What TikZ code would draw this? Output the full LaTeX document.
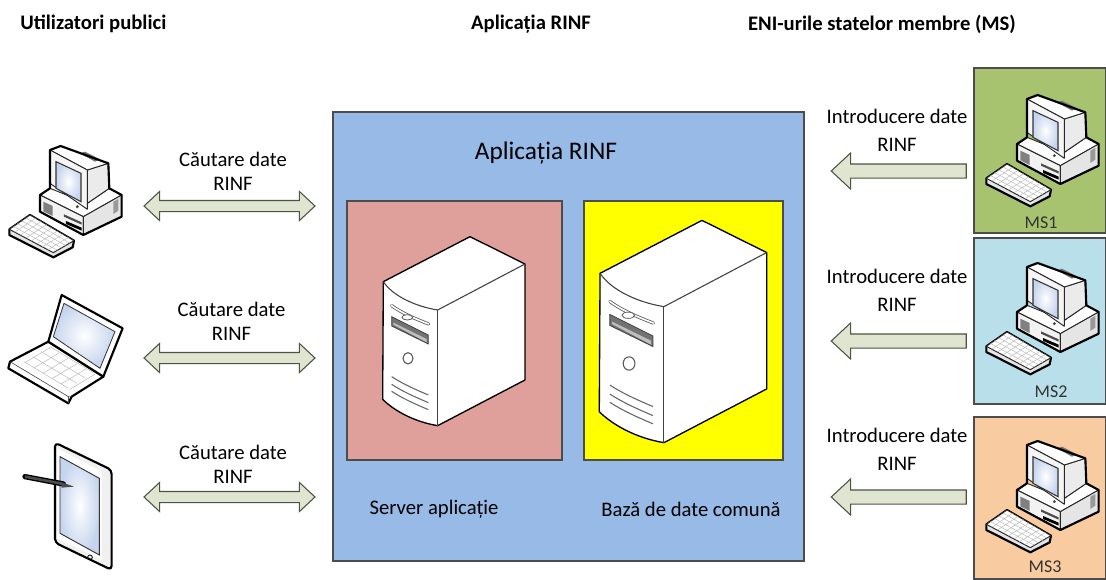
\documentclass[tikz,border=0pt]{standalone}
\usepackage{fontspec}
\setmainfont{Carlito}
\usetikzlibrary{shapes.arrows}
\definecolor{panelblue}{HTML}{97BAE6}
\definecolor{panelpink}{HTML}{DF9F9B}
\definecolor{puryellow}{HTML}{FFFF00}
\definecolor{msgreen}{HTML}{A7C36F}
\definecolor{mscyan}{HTML}{B9DFEA}
\definecolor{msorange}{HTML}{F8CBA1}
\definecolor{arrowfill}{HTML}{DFE5D1}
\definecolor{arrowline}{HTML}{4A5440}
\definecolor{screenblue}{HTML}{C6D5EE}
\tikzset{
  x=0.75pt,y=-0.75pt,
  box/.style={draw=black!70,line width=0.8pt,anchor=north west,inner sep=0pt,outer sep=0pt},
  lbl/.style={font=\fontsize{15.5pt}{18pt}\selectfont,text=black,inner sep=0pt},
  mslbl/.style={font=\fontsize{13.5pt}{16pt}\selectfont,text=black!80,inner sep=0pt},
  title/.style={font=\fontsize{15.5pt}{18pt}\selectfont\bfseries,text=black,inner sep=0pt},
  both/.style={double arrow,draw=arrowline,fill=arrowfill,line width=0.8pt,inner sep=0pt,
    text height=7.5pt,text depth=0pt,
    minimum height=128.25pt,minimum width=21pt,double arrow head extend=6.75pt,double arrow tip angle=86},
  oneway/.style={single arrow,draw=arrowline,fill=arrowfill,line width=0.8pt,inner sep=0pt,shape border rotate=180,
    text height=9.75pt,text depth=0pt,
    minimum height=101.25pt,minimum width=26.25pt,single arrow head extend=8.25pt,single arrow tip angle=86},
  devline/.style={draw=black,line width=1.6pt,line join=round},
  devinner/.style={draw=black!85,line width=0.7pt,line join=round},
  keyline/.style={draw=black!28,line width=0.35pt},
  srvline/.style={draw=black!75,line width=0.8pt,line join=round},
  pics/server/.style={code={
    \fill[white] (130,275)--(390,140)--(555,222)--(555,570)--(293,707) .. controls (220,695) and (160,660) .. (128,628)--cycle;
    \draw[draw=black,line width=1pt,line join=round] (130,275)--(390,140)--(555,222)--(555,570)--(293,707) .. controls (220,695) and (160,660) .. (128,628)--cycle;
    \draw[srvline] (130,275) .. controls (160,320) and (230,350) .. (293,360)--(555,222);
    \draw[srvline] (293,360)--(293,707);
    \draw[draw=black!65,line width=2.4pt,line cap=round] (155,347) .. controls (190,372) and (230,388) .. (266,402);
    \draw[draw=white,line width=1.2pt,line cap=round] (155,347) .. controls (190,372) and (230,388) .. (266,402);
    \draw[draw=black!65,fill=white,line width=0.6pt] (202,382) ellipse (16 and 8);
    \fill[black!55,draw=black!75,line width=0.6pt] (155,380)--(265,435)--(265,462)--(155,408)--cycle;
    \fill[black!25] (160,398)--(260,447)--(260,457)--(160,404)--cycle;
    \draw[draw=black!65,line width=0.8pt] (204,505) ellipse (15 and 17);
    \foreach \d in {0,23,44}{
      \draw[draw=black!60,line width=0.8pt] (155,560+\d) .. controls (190,583+\d) and (230,600+\d) .. (265,615+\d);
    }
  }},
  pics/desktop/.style={code={
    % keyboard
    \draw[devline,fill=black!10] (28,328)--(90,285)--(222,362)--(218,382)--(160,412)--(28,345)--cycle;
    \draw[devinner,fill=white] (28,328)--(90,285)--(222,362)--(160,398)--cycle;
    \foreach \i in {1,...,4}{
      \draw[keyline] ({28+\i*12.4},{328-\i*8.6}) -- ({160+\i*12.4},{398-\i*7.2});
    }
    \foreach \i in {1,...,7}{
      \draw[keyline] ({28+\i*16.5},{328+\i*8.75}) -- ({90+\i*16.5},{285+\i*9.6});
    }
    % base
    \draw[devinner,fill=white] (120,225)--(150,205)--(262,250)--(328,205)--(365,225)--(250,290)--cycle;
    \draw[devinner,fill=black!5] (120,225)--(250,290)--(250,345)--(120,275)--cycle;
    \draw[devinner,fill=black!10] (250,290)--(365,225)--(365,290)--(250,345)--cycle;
    \fill[black!50] (130,245)--(158,258)--(158,288)--(130,274)--cycle;
    \fill[black!40] (340,245)--(355,237)--(355,272)--(340,282)--cycle;
    \fill[black!70] (192,283)--(245,307)--(245,314)--(192,290)--cycle;
    \fill[black] (198,303)--(245,323)--(245,332)--(198,312)--cycle;
    % monitor
    \draw[devinner,fill=black!8] (262,150)--(325,130)--(328,205)--(262,250)--cycle;
    \draw[devinner,fill=white] (150,90)--(182,78)--(325,130)--(262,150)--cycle;
    \draw[devinner,fill=black!4] (150,90)--(262,150)--(262,268)--(150,190)--cycle;
    \shade[inner color=white,outer color=screenblue] (168,125)--(243,160)--(243,245)--(168,205)--cycle;
    \draw[draw=black!80,line width=0.8pt] (168,125)--(243,160)--(243,245)--(168,205)--cycle;
    \fill[black!55] (240,100)--(255,95)--(300,118)--(285,125)--cycle;
    \fill[black!70] (232,260) circle (5);
    % silhouette
    \draw[devline] (150,90)--(182,78)--(325,130)--(328,205)--(365,225)--(365,290)--(250,345)--(120,275)--(120,225)--(150,205)--cycle;
  }},
  pics/laptop/.style={code={
    \draw[devline,fill=white] (145,665)--(30,725)--(25,745)--(205,850)--(215,830)--(310,770)--cycle;
    \draw[line width=0.5pt,draw=black!70] (30,725)--(205,830)--(215,830);
    \draw[line width=0.5pt,draw=black!70] (205,830)--(205,850);
    \foreach \i in {0,1,2,3}{
      \draw[keyline] ({72+\i*26},{725-\i*15}) -- ({205+\i*26},{805-\i*15});
    }
    \foreach \i in {0,...,5}{
      \draw[keyline] ({75+\i*27},{728+\i*16}) -- ({150+\i*27},{683+\i*16});
    }
    \draw[devline,fill=white] (185,525)--(368,625)--(310,770)--(145,665)--cycle;
    \shade[inner color=white,outer color=screenblue] (192,550)--(345,635)--(300,745)--(160,650)--cycle;
    \draw[draw=black!80,line width=0.6pt] (192,550)--(345,635)--(300,745)--(160,650)--cycle;
  }},
  pics/tablet/.style={code={
    \draw[devline,fill=black!6,rounded corners=3pt] (165,968)--(335,1050)--(335,1350)--(165,1268)--cycle;
    \fill[white] (172,985)--(305,1055)--(305,1320)--(172,1255)--cycle;
    \shade[inner color=white,outer color=screenblue] (180,1010)--(298,1075)--(298,1305)--(180,1240)--cycle;
    \draw[draw=black!80,line width=0.7pt] (180,1010)--(298,1075)--(298,1305)--(180,1240)--cycle;
    \draw[draw=black,line width=0.6pt] (270,1312) circle (7);
    \draw[draw=black,line width=4pt,line cap=round] (75,1070)--(190,1092);
    \draw[draw=black!70,line width=2pt] (75,1070)--(190,1092);
    \fill[black!70] (185,1087)--(222,1100)--(185,1103)--cycle;
  }},
}
\begin{document}
\begin{tikzpicture}
\useasboundingbox (0,0) rectangle (1106,579);

% titles
\node[title,anchor=west] (t1) at (20,24) {Utilizatori publici};
\node[title] (t2) at (531,24) {Aplicația RINF};
\node[title] (t3) at (882,24) {ENI-urile statelor membre (MS)};

% central application
\node[box,fill=panelblue,minimum width=353.25pt,minimum height=336.75pt] (app) at (333,112) {};
\node[lbl,font=\fontsize{19pt}{22pt}\selectfont] (apptitle) at (546,153) {Aplicația RINF};
\node[box,fill=panelpink,minimum width=161.25pt,minimum height=194.25pt] (srvA) at (347,201) {};
\node[box,fill=puryellow,minimum width=149.25pt,minimum height=194.25pt] (srvB) at (584,201) {};
\pic[scale=0.3333] at (340,190) {server};
\pic[scale=0.392] at (549.1,165.5) {server};
\node[lbl] (srvAlbl) at (434,509) {Server aplicație};
\node[lbl] (srvBlbl) at (691,509) {Bază de date comună};

% member states
\node[box,fill=msgreen,minimum width=99pt,minimum height=123.75pt] (ms1) at (974,68) {};
\node[box,fill=mscyan,minimum width=99pt,minimum height=124.5pt] (ms2) at (974,238) {};
\node[box,fill=msorange,minimum width=99pt,minimum height=121.5pt] (ms3) at (974,417) {};
\pic[scale=0.3333] at (977,69) {desktop};
\pic[scale=0.3333] at (977,237) {desktop};
\pic[scale=0.3333] at (977,415) {desktop};
\node[mslbl] (ms1lbl) at (1041,223) {MS1};
\node[mslbl] (ms2lbl) at (1051,392) {MS2};
\node[mslbl] (ms3lbl) at (1045,567) {MS3};

% public users
\pic[scale=0.3333] at (0,120) {desktop};
\pic[scale=0.3333] at (0,120) {laptop};
\pic[scale=0.3333] at (0,120) {tablet};

% double arrows and labels
\node[both] (a1) at (229.5,206) {};
\node[both] (a2) at (229.5,358) {};
\node[both] (a3) at (229.5,497) {};
\node[lbl] (c1a) at (233,159) {Căutare date};
\node[lbl] (c1b) at (233,184) {RINF};
\node[lbl] (c2a) at (231.5,309) {Căutare date};
\node[lbl] (c2b) at (231.5,334) {RINF};
\node[lbl] (c3a) at (233,452) {Căutare date};
\node[lbl] (c3b) at (233,477) {RINF};

% one-way arrows and labels
\node[oneway] (b1) at (902.5,171) {};
\node[oneway] (b2) at (902.5,341) {};
\node[oneway] (b3) at (902.5,497) {};
\node[lbl] (i1a) at (897,116) {Introducere date};
\node[lbl] (i1b) at (897,145) {RINF};
\node[lbl] (i2a) at (897,276) {Introducere date};
\node[lbl] (i2b) at (897,305) {RINF};
\node[lbl] (i3a) at (897,435) {Introducere date};
\node[lbl] (i3b) at (897,464) {RINF};
\end{tikzpicture}
\end{document}
